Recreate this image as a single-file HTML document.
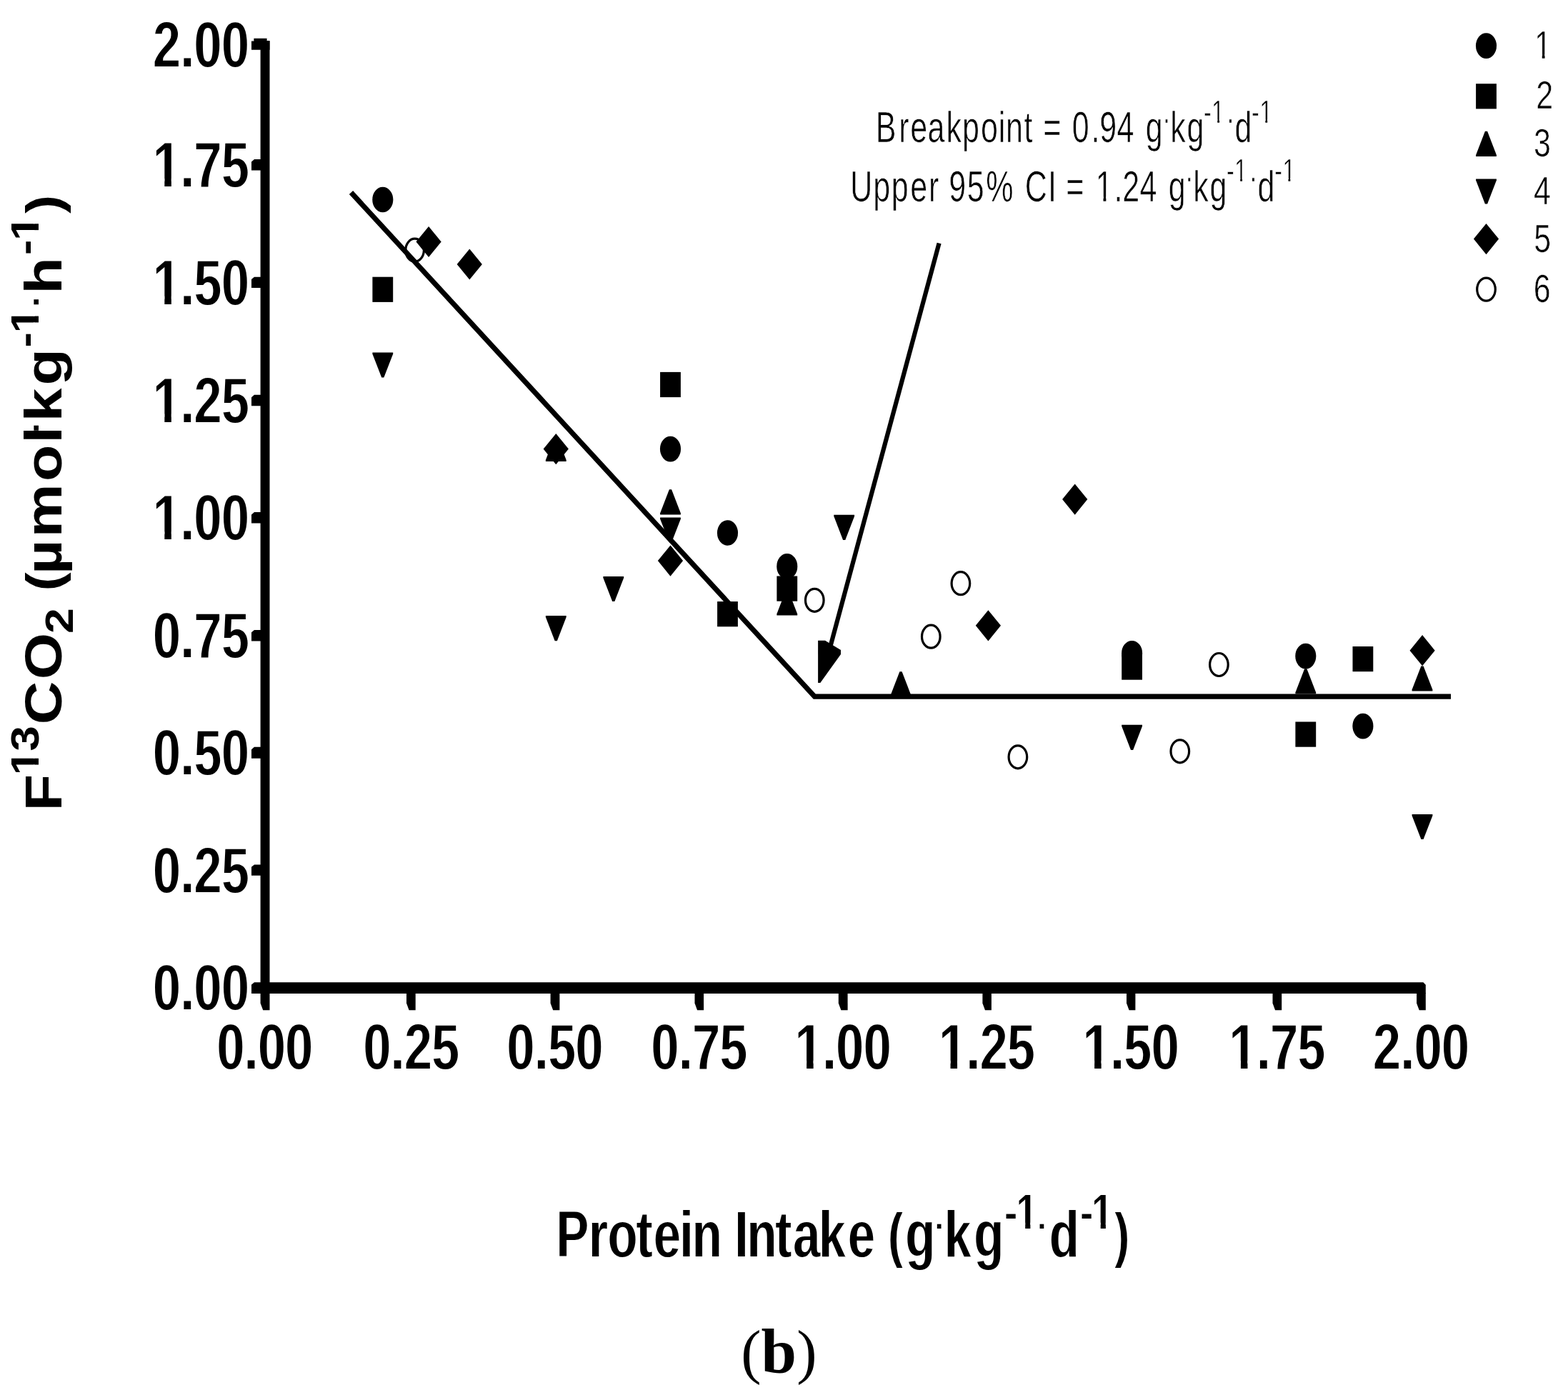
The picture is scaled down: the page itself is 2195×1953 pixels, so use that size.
<!DOCTYPE html>
<html lang="en"><head><meta charset="utf-8"><title>Figure (b)</title>
<style>
html,body{margin:0;padding:0;background:#fff;}
body{width:2195px;height:1953px;}
svg{display:block;}
text{fill:#000;}
</style></head>
<body>
<svg width="2195" height="1953" viewBox="0 0 2195 1953">
<defs><filter id="thin" x="-5%" y="-5%" width="110%" height="110%"><feMorphology operator="erode" radius="0 1"/></filter></defs>
<rect x="0" y="0" width="2195" height="1953" fill="#fff"/>
<g fill="#000">
<polygon points="364.6,57 377.5,57 377.5,1414.2 368.2,1414.2 364.6,1404.5"/>
<polygon points="356,1375.2 1992.4,1375.2 1995.8,1378.8 1995.8,1391 352,1391 352,1378.6"/>
<polygon points="355.4,53.8 373.6,53.8 373.6,57.4 377.5,57.4 377.5,69.7 352,69.7 352,57.4 355.4,57.4"/>
<polygon points="356,223.1 366,223.1 366,238.5 352,238.5 352,226.5"/>
<polygon points="356,387.7 366,387.7 366,403.0 352,403.0 352,391.1"/>
<polygon points="356,552.8 366,552.8 366,568.3 352,568.3 352,556.2"/>
<polygon points="356,717.0 366,717.0 366,732.5 352,732.5 352,720.4"/>
<polygon points="356,881.9 366,881.9 366,897.4 352,897.4 352,885.3"/>
<polygon points="356,1045.8 366,1045.8 366,1061.7 352,1061.7 352,1049.2"/>
<polygon points="356,1210.4 366,1210.4 366,1225.8 352,1225.8 352,1213.8"/>
<polygon points="569.0,1390 581.7,1390 581.7,1414.2 572.6,1414.2 569.0,1404.5"/>
<polygon points="770.6,1390 783.4,1390 783.4,1414.2 774.2,1414.2 770.6,1404.5"/>
<polygon points="972.5,1390 985.1,1390 985.1,1414.2 976.1,1414.2 972.5,1404.5"/>
<polygon points="1173.8,1390 1186.6,1390 1186.6,1414.2 1177.4,1414.2 1173.8,1404.5"/>
<polygon points="1375.4,1390 1387.9,1390 1387.9,1414.2 1379.0,1414.2 1375.4,1404.5"/>
<polygon points="1577.0,1390 1589.4,1390 1589.4,1414.2 1580.6,1414.2 1577.0,1404.5"/>
<polygon points="1781.5,1390 1794.2,1390 1794.2,1414.2 1785.1,1414.2 1781.5,1404.5"/>
<polygon points="1983.1,1390 1995.8,1390 1995.8,1414.2 1986.7,1414.2 1983.1,1404.5"/>
</g>
<text transform="translate(281.4,93.6) scale(1,1.319)" font-family="Liberation Sans, Arial, Helvetica, sans-serif" font-size="69.0" font-weight="bold" text-anchor="middle" filter="url(#thin)">2.00</text>
<text transform="translate(281.4,262.1) scale(1,1.319)" font-family="Liberation Sans, Arial, Helvetica, sans-serif" font-size="69.0" font-weight="bold" text-anchor="middle" filter="url(#thin)">1.75</text>
<g transform="translate(281.4,262.1) scale(1,1.319)" fill="#fff"><rect x="-65.08" y="-9.11" width="14.01" height="11.18"/><rect x="-41.55" y="-9.11" width="13.04" height="11.18"/></g>
<text transform="translate(281.4,426.7) scale(1,1.319)" font-family="Liberation Sans, Arial, Helvetica, sans-serif" font-size="69.0" font-weight="bold" text-anchor="middle" filter="url(#thin)">1.50</text>
<g transform="translate(281.4,426.7) scale(1,1.319)" fill="#fff"><rect x="-65.08" y="-9.11" width="14.01" height="11.18"/><rect x="-41.55" y="-9.11" width="13.04" height="11.18"/></g>
<text transform="translate(281.4,591.5) scale(1,1.319)" font-family="Liberation Sans, Arial, Helvetica, sans-serif" font-size="69.0" font-weight="bold" text-anchor="middle" filter="url(#thin)">1.25</text>
<g transform="translate(281.4,591.5) scale(1,1.319)" fill="#fff"><rect x="-65.08" y="-9.11" width="14.01" height="11.18"/><rect x="-41.55" y="-9.11" width="13.04" height="11.18"/></g>
<text transform="translate(281.4,756.3) scale(1,1.319)" font-family="Liberation Sans, Arial, Helvetica, sans-serif" font-size="69.0" font-weight="bold" text-anchor="middle" filter="url(#thin)">1.00</text>
<g transform="translate(281.4,756.3) scale(1,1.319)" fill="#fff"><rect x="-65.08" y="-9.11" width="14.01" height="11.18"/><rect x="-41.55" y="-9.11" width="13.04" height="11.18"/></g>
<text transform="translate(281.4,920.8) scale(1,1.319)" font-family="Liberation Sans, Arial, Helvetica, sans-serif" font-size="69.0" font-weight="bold" text-anchor="middle" filter="url(#thin)">0.75</text>
<text transform="translate(281.4,1085.1) scale(1,1.319)" font-family="Liberation Sans, Arial, Helvetica, sans-serif" font-size="69.0" font-weight="bold" text-anchor="middle" filter="url(#thin)">0.50</text>
<text transform="translate(281.4,1249.8) scale(1,1.319)" font-family="Liberation Sans, Arial, Helvetica, sans-serif" font-size="69.0" font-weight="bold" text-anchor="middle" filter="url(#thin)">0.25</text>
<text transform="translate(281.4,1414.3) scale(1,1.319)" font-family="Liberation Sans, Arial, Helvetica, sans-serif" font-size="69.0" font-weight="bold" text-anchor="middle" filter="url(#thin)">0.00</text>
<text transform="translate(370.8,1496.9) scale(1,1.319)" font-family="Liberation Sans, Arial, Helvetica, sans-serif" font-size="69.0" font-weight="bold" text-anchor="middle" filter="url(#thin)">0.00</text>
<text transform="translate(575.8,1496.9) scale(1,1.319)" font-family="Liberation Sans, Arial, Helvetica, sans-serif" font-size="69.0" font-weight="bold" text-anchor="middle" filter="url(#thin)">0.25</text>
<text transform="translate(777.0,1496.9) scale(1,1.319)" font-family="Liberation Sans, Arial, Helvetica, sans-serif" font-size="69.0" font-weight="bold" text-anchor="middle" filter="url(#thin)">0.50</text>
<text transform="translate(979.0,1496.9) scale(1,1.319)" font-family="Liberation Sans, Arial, Helvetica, sans-serif" font-size="69.0" font-weight="bold" text-anchor="middle" filter="url(#thin)">0.75</text>
<text transform="translate(1180.2,1496.9) scale(1,1.319)" font-family="Liberation Sans, Arial, Helvetica, sans-serif" font-size="69.0" font-weight="bold" text-anchor="middle" filter="url(#thin)">1.00</text>
<g transform="translate(1180.2,1496.9) scale(1,1.319)" fill="#fff"><rect x="-65.08" y="-9.11" width="14.01" height="11.18"/><rect x="-41.55" y="-9.11" width="13.04" height="11.18"/></g>
<text transform="translate(1381.6,1496.9) scale(1,1.319)" font-family="Liberation Sans, Arial, Helvetica, sans-serif" font-size="69.0" font-weight="bold" text-anchor="middle" filter="url(#thin)">1.25</text>
<g transform="translate(1381.6,1496.9) scale(1,1.319)" fill="#fff"><rect x="-65.08" y="-9.11" width="14.01" height="11.18"/><rect x="-41.55" y="-9.11" width="13.04" height="11.18"/></g>
<text transform="translate(1583.2,1496.9) scale(1,1.319)" font-family="Liberation Sans, Arial, Helvetica, sans-serif" font-size="69.0" font-weight="bold" text-anchor="middle" filter="url(#thin)">1.50</text>
<g transform="translate(1583.2,1496.9) scale(1,1.319)" fill="#fff"><rect x="-65.08" y="-9.11" width="14.01" height="11.18"/><rect x="-41.55" y="-9.11" width="13.04" height="11.18"/></g>
<text transform="translate(1788.0,1496.9) scale(1,1.319)" font-family="Liberation Sans, Arial, Helvetica, sans-serif" font-size="69.0" font-weight="bold" text-anchor="middle" filter="url(#thin)">1.75</text>
<g transform="translate(1788.0,1496.9) scale(1,1.319)" fill="#fff"><rect x="-65.08" y="-9.11" width="14.01" height="11.18"/><rect x="-41.55" y="-9.11" width="13.04" height="11.18"/></g>
<text transform="translate(1989.5,1496.9) scale(1,1.319)" font-family="Liberation Sans, Arial, Helvetica, sans-serif" font-size="69.0" font-weight="bold" text-anchor="middle" filter="url(#thin)">2.00</text>
<g id="series">
<ellipse cx="580.6" cy="350.2" rx="12.8" ry="16.0" fill="#fff" stroke="#000" stroke-width="3.2"/>
<ellipse cx="1140.3" cy="840.3" rx="12.8" ry="16.0" fill="#fff" stroke="#000" stroke-width="3.2"/>
<ellipse cx="1303.3" cy="891.2" rx="12.8" ry="16.0" fill="#fff" stroke="#000" stroke-width="3.2"/>
<ellipse cx="1344.9" cy="816.7" rx="12.8" ry="16.0" fill="#fff" stroke="#000" stroke-width="3.2"/>
<ellipse cx="1424.9" cy="1059.8" rx="12.8" ry="16.0" fill="#fff" stroke="#000" stroke-width="3.2"/>
<ellipse cx="1651.8" cy="1051.8" rx="12.8" ry="16.0" fill="#fff" stroke="#000" stroke-width="3.2"/>
<ellipse cx="1706.4" cy="930.5" rx="12.8" ry="16.0" fill="#fff" stroke="#000" stroke-width="3.2"/>
<ellipse cx="535.8" cy="279.5" rx="14.55" ry="17.8" fill="#000"/>
<ellipse cx="938.5" cy="628.6" rx="14.55" ry="17.8" fill="#000"/>
<ellipse cx="1018.5" cy="746" rx="14.55" ry="17.8" fill="#000"/>
<ellipse cx="1101.8" cy="792.9" rx="14.55" ry="17.8" fill="#000"/>
<ellipse cx="1584.6" cy="914.7" rx="14.55" ry="17.8" fill="#000"/>
<ellipse cx="1827.8" cy="918.6" rx="14.55" ry="17.8" fill="#000"/>
<ellipse cx="1907.9" cy="1016.6" rx="14.55" ry="17.8" fill="#000"/>
<rect x="521.4" y="387.7" width="28.8" height="35.2" fill="#000"/>
<rect x="924.1" y="520.9" width="28.8" height="35.2" fill="#000"/>
<rect x="1004.1" y="842.1" width="28.8" height="35.2" fill="#000"/>
<rect x="1087.3999999999999" y="806.5" width="28.8" height="35.2" fill="#000"/>
<rect x="1570.1999999999998" y="916.5" width="28.8" height="35.2" fill="#000"/>
<rect x="1813.3999999999999" y="1010.4999999999999" width="28.8" height="35.2" fill="#000"/>
<rect x="1893.5" y="905.0" width="28.8" height="35.2" fill="#000"/>
<polygon points="776.7,610.7 779.9,610.7 792.7,643.9 792.7,645.9 763.9,645.9 763.9,643.9" fill="#000"/>
<polygon points="936.9,685.2 940.1,685.2 952.9,718.4 952.9,720.4 924.1,720.4 924.1,718.4" fill="#000"/>
<polygon points="1100.2,826.3 1103.4,826.3 1116.2,859.5 1116.2,861.5 1087.4,861.5 1087.4,859.5" fill="#000"/>
<polygon points="1259.4,940.2 1262.6,940.2 1275.4,973.4 1275.4,975.4 1246.6,975.4 1246.6,973.4" fill="#000"/>
<polygon points="1826.2,936.3 1829.4,936.3 1842.2,969.5 1842.2,971.5 1813.4,971.5 1813.4,969.5" fill="#000"/>
<polygon points="1989.4,932.4 1992.6,932.4 2005.4,965.6 2005.4,967.6 1976.6,967.6 1976.6,965.6" fill="#000"/>
<polygon points="534.2,528.6 537.4,528.6 550.2,495.4 550.2,493.4 521.4,493.4 521.4,495.4" fill="#000"/>
<polygon points="776.7,897.2 779.9,897.2 792.7,864.0 792.7,862.0 763.9,862.0 763.9,864.0" fill="#000"/>
<polygon points="857.2,842.1 860.4,842.1 873.2,808.9 873.2,806.9 844.4,806.9 844.4,808.9" fill="#000"/>
<polygon points="936.9,759.6 940.1,759.6 952.9,726.4 952.9,724.4 924.1,724.4 924.1,726.4" fill="#000"/>
<polygon points="1180.1,755.9 1183.3,755.9 1196.1,722.7 1196.1,720.7 1167.3,720.7 1167.3,722.7" fill="#000"/>
<polygon points="1583.0,1049.9 1586.2,1049.9 1599.0,1016.7 1599.0,1014.7 1570.2,1014.7 1570.2,1016.7" fill="#000"/>
<polygon points="1989.4,1175.1 1992.6,1175.1 2005.4,1141.9 2005.4,1139.9 1976.6,1139.9 1976.6,1141.9" fill="#000"/>
<polygon points="600.1,316.9 617.7,338.5 600.1,360.1 582.5,338.5" fill="#000"/>
<polygon points="657.3,348.4 674.9,370 657.3,391.6 639.6999999999999,370" fill="#000"/>
<polygon points="778.3,607.0 795.9,628.6 778.3,650.2 760.6999999999999,628.6" fill="#000"/>
<polygon points="938.5,763.5 956.1,785.1 938.5,806.7 920.9,785.1" fill="#000"/>
<polygon points="1383.4,854.1999999999999 1401.0,875.8 1383.4,897.4 1365.8000000000002,875.8" fill="#000"/>
<polygon points="1504.7,677.5 1522.3,699.1 1504.7,720.7 1487.1000000000001,699.1" fill="#000"/>
<polygon points="1991.1,889.1 2008.6999999999998,910.7 1991.1,932.3000000000001 1973.5,910.7" fill="#000"/>
</g>
<g fill="none" stroke="#000" stroke-linejoin="miter">
<polyline points="491.5,269.5 1140.3,975.2 2031,975.2" stroke-width="7.2"/>
<line x1="1314.6" y1="340.5" x2="1162.4" y2="905" stroke-width="6.2"/>
</g>
<polygon points="1145.1,896.8 1155,896.8 1177,910 1177,916 1148.3,956 1145.1,956" fill="#000"/>
<g id="legend">
<ellipse cx="2080.5" cy="64.1" rx="14.55" ry="17.8" fill="#000"/>
<rect x="2066.1" y="117.20000000000002" width="28.8" height="35.2" fill="#000"/>
<polygon points="2078.9,183.7 2082.1,183.7 2094.9,216.9 2094.9,218.9 2066.1,218.9 2066.1,216.9" fill="#000"/>
<polygon points="2078.9,285.6 2082.1,285.6 2094.9,252.4 2094.9,250.4 2066.1,250.4 2066.1,252.4" fill="#000"/>
<polygon points="2080.5,313.0 2098.1,334.6 2080.5,356.20000000000005 2062.9,334.6" fill="#000"/>
<ellipse cx="2080.5" cy="405.1" rx="12.8" ry="16.0" fill="#fff" stroke="#000" stroke-width="3.2"/>
<text transform="translate(0,81.7) scale(1,1.29)" font-family="Liberation Sans, Arial, Helvetica, sans-serif" font-size="43" font-weight="normal" xml:space="preserve" stroke="#fff" stroke-width="0.5"><tspan x="2147.9" y="0.0" font-size="43.0">1</tspan></text>
<g transform="translate(0,81.7) scale(1,1.29)" fill="#fff"><rect x="2149.22" y="-4.51" width="9.50" height="5.81"/><rect x="2162.55" y="-4.51" width="9.46" height="5.81"/></g>
<text transform="translate(0,152.3) scale(1,1.29)" font-family="Liberation Sans, Arial, Helvetica, sans-serif" font-size="43" font-weight="normal" xml:space="preserve" stroke="#fff" stroke-width="0.5"><tspan x="2150.3" y="0.0" font-size="43.0">2</tspan></text>
<text transform="translate(0,218.8) scale(1,1.29)" font-family="Liberation Sans, Arial, Helvetica, sans-serif" font-size="43" font-weight="normal" xml:space="preserve" stroke="#fff" stroke-width="0.5"><tspan x="2147.1" y="0.0" font-size="43.0">3</tspan></text>
<text transform="translate(0,285.5) scale(1,1.29)" font-family="Liberation Sans, Arial, Helvetica, sans-serif" font-size="43" font-weight="normal" xml:space="preserve" stroke="#fff" stroke-width="0.5"><tspan x="2147.1" y="0.0" font-size="43.0">4</tspan></text>
<text transform="translate(0,352.5) scale(1,1.29)" font-family="Liberation Sans, Arial, Helvetica, sans-serif" font-size="43" font-weight="normal" xml:space="preserve" stroke="#fff" stroke-width="0.5"><tspan x="2147.3" y="0.0" font-size="43.0">5</tspan></text>
<text transform="translate(0,422.7) scale(1,1.29)" font-family="Liberation Sans, Arial, Helvetica, sans-serif" font-size="43" font-weight="normal" xml:space="preserve" stroke="#fff" stroke-width="0.5"><tspan x="2146.8" y="0.0" font-size="43.0">6</tspan></text>
</g>
<text transform="translate(0,199.4) scale(1,1.4)" font-family="Liberation Sans, Arial, Helvetica, sans-serif" font-size="43" font-weight="normal" xml:space="preserve" stroke="#fff" stroke-width="0.5"><tspan x="1225.8 1258.3 1274.2 1298.5 1324.5 1347.1 1373.0 1397.7 1407.9 1433.4 1445.3 1460.2 1485.3 1500.8 1527.5 1539.2 1563.5 1587.4 1603.8" y="0.0" font-size="43.0">Breakpoint = 0.94 g</tspan><tspan x="1627.2" y="-11.5" font-size="34.4">·</tspan><tspan x="1638.2 1661.5" y="0.0" font-size="43.0">kg</tspan><tspan x="1685.0 1696.1" y="-19.6" font-size="32.2">-1</tspan><tspan x="1716.7" y="-11.5" font-size="34.4">·</tspan><tspan x="1728.4" y="0.0" font-size="43.0">d</tspan><tspan x="1752.1 1763.2" y="-19.6" font-size="32.2">-1</tspan></text>
<g transform="translate(0,199.4) scale(1,1.4)" fill="#fff"><rect x="1697.09" y="-22.96" width="7.13" height="4.35"/><rect x="1707.08" y="-22.96" width="7.10" height="4.35"/><rect x="1764.19" y="-22.96" width="7.13" height="4.35"/><rect x="1774.18" y="-22.96" width="7.10" height="4.35"/></g>
<text transform="translate(0,281.5) scale(1,1.4)" font-family="Liberation Sans, Arial, Helvetica, sans-serif" font-size="43" font-weight="normal" xml:space="preserve" stroke="#fff" stroke-width="0.5"><tspan x="1190.3 1222.2 1247.8 1274.2 1300.0 1314.3 1328.2 1353.7 1380.3 1418.6 1434.7 1466.9 1478.9 1492.3 1517.4 1533.7 1559.6 1571.2 1595.4 1619.3 1635.7" y="0.0" font-size="43.0">Upper 95% CI = 1.24 g</tspan><tspan x="1659.1" y="-11.5" font-size="34.4">·</tspan><tspan x="1670.2 1693.4" y="0.0" font-size="43.0">kg</tspan><tspan x="1716.9 1728.1" y="-19.6" font-size="32.2">-1</tspan><tspan x="1748.7" y="-11.5" font-size="34.4">·</tspan><tspan x="1760.4" y="0.0" font-size="43.0">d</tspan><tspan x="1784.2 1795.4" y="-19.6" font-size="32.2">-1</tspan></text>
<g transform="translate(0,281.5) scale(1,1.4)" fill="#fff"><rect x="1535.02" y="-4.51" width="9.50" height="5.81"/><rect x="1548.35" y="-4.51" width="9.46" height="5.81"/><rect x="1729.04" y="-22.96" width="7.13" height="4.35"/><rect x="1739.03" y="-22.96" width="7.10" height="4.35"/><rect x="1796.34" y="-22.96" width="7.13" height="4.35"/><rect x="1806.33" y="-22.96" width="7.10" height="4.35"/></g>
<text transform="translate(0,1760.2) scale(1,1.352)" font-family="Liberation Sans, Arial, Helvetica, sans-serif" font-size="68" font-weight="bold" xml:space="preserve" filter="url(#thin)"><tspan x="778.8 824.3 850.7 890.7 915.0 951.4 969.1 1010.7 1028.5 1045.8 1085.5 1110.2 1146.3 1186.9 1224.7" y="0.0" font-size="68.0">Protein Intake </tspan><tspan x="1243.2" y="-1.6" font-size="63.2">(</tspan><tspan x="1267.6" y="0.0" font-size="68.0">g</tspan><tspan x="1309.0" y="-18.4" font-size="40.8">·</tspan><tspan x="1322.0 1363.6" y="0.0" font-size="68.0">kg</tspan><tspan x="1406.6 1423.1" y="-29.0" font-size="52.0">-1</tspan><tspan x="1452.7" y="-18.4" font-size="40.8">·</tspan><tspan x="1469.0" y="0.0" font-size="68.0">d</tspan><tspan x="1512.4 1528.6" y="-29.0" font-size="52.0">-1</tspan><tspan x="1560.1" y="-1.6" font-size="63.2">)</tspan></text>
<g transform="translate(0,1760.2) scale(1,1.352)" fill="#fff"><rect x="1424.64" y="-35.86" width="10.56" height="8.43"/><rect x="1442.38" y="-35.86" width="9.83" height="8.43"/><rect x="1530.14" y="-35.86" width="10.56" height="8.43"/><rect x="1547.88" y="-35.86" width="9.83" height="8.43"/></g>
<text transform="translate(86.4,0) scale(1,1.15) rotate(-90)" font-family="Liberation Sans, Arial, Helvetica, sans-serif" font-size="73" font-weight="bold" xml:space="preserve" ><tspan x="-987.2" y="0.0" font-size="73.0">F</tspan><tspan x="-944.0 -914.5" y="-32.0" font-size="55.8">13</tspan><tspan x="-881.9 -827.1" y="0.0" font-size="73.0">CO</tspan><tspan x="-771.4" y="15.8" font-size="55.8">2</tspan><tspan x="-740.4" y="0.0" font-size="73.0"> </tspan><tspan x="-719.6" y="-1.7" font-size="67.9">(</tspan><tspan x="-699.2 -654.1 -586.0 -539.6" y="0.0" font-size="73.0">µmol</tspan><tspan x="-527.2" y="-20.5" font-size="43.8">·</tspan><tspan x="-513.3 -469.2" y="0.0" font-size="73.0">kg</tspan><tspan x="-423.1 -405.6" y="-32.0" font-size="55.8">-1</tspan><tspan x="-373.8" y="-20.5" font-size="43.8">·</tspan><tspan x="-357.9" y="0.0" font-size="73.0">h</tspan><tspan x="-310.4 -293.1" y="-32.0" font-size="55.8">-1</tspan><tspan x="-259.8" y="-1.7" font-size="67.9">)</tspan></text>
<g transform="translate(86.4,0) scale(1,1.15) rotate(-90)" fill="#fff"><rect x="-942.28" y="-39.37" width="11.34" height="9.05"/><rect x="-923.24" y="-39.37" width="10.55" height="9.05"/><rect x="-403.89" y="-39.37" width="11.34" height="9.05"/><rect x="-384.84" y="-39.37" width="10.55" height="9.05"/><rect x="-291.45" y="-39.37" width="11.34" height="9.05"/><rect x="-272.41" y="-39.37" width="10.55" height="9.05"/></g>
<text font-family="Liberation Serif, DejaVu Serif, serif" font-size="85"><tspan x="1037.2" y="1921.4">(</tspan><tspan x="1065.4" y="1921.5" font-size="89" font-weight="bold">b</tspan><tspan x="1115.3" y="1921.4">)</tspan></text>
</svg>
</body></html>
